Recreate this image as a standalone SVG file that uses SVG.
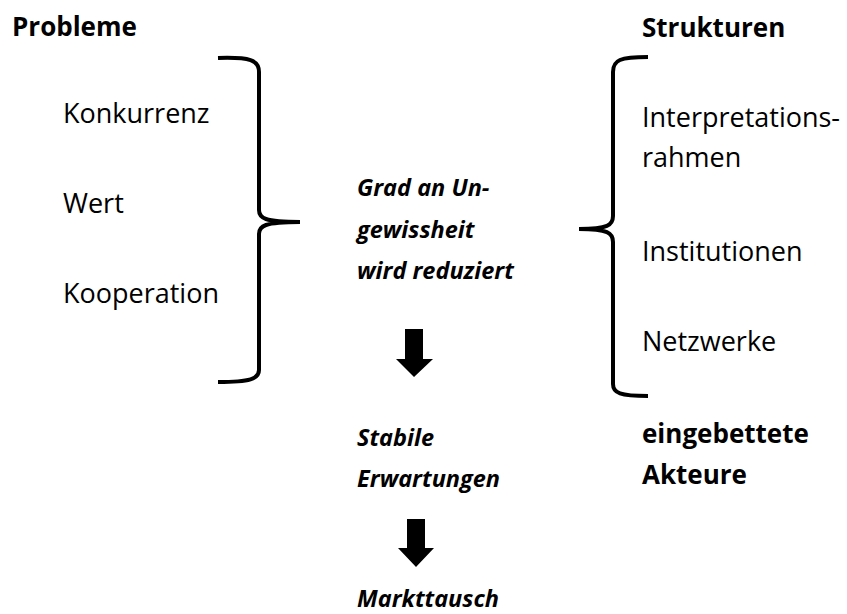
<svg xmlns="http://www.w3.org/2000/svg" width="847" height="614" viewBox="0 0 847 614">
<style>
text{font-family:"Open Sans","Liberation Sans",sans-serif;fill:#000;font-size:27px}
.b{font-weight:bold;font-size:26px}
.bi{font-weight:bold;font-style:italic;font-size:23.5px}
.brace{fill:none;stroke:#000;stroke-width:4;stroke-linecap:butt}
.arrow{fill:#000}
</style>
<rect width="847" height="614" fill="#fff"/>
<g id="probleme">
<text class="b" x="12" y="36">Probleme</text>
<text x="63" y="123">Konkurrenz</text>
<text x="63" y="213">Wert</text>
<text x="63" y="303">Kooperation</text>
</g>
<g id="strukturen">
<text class="b" x="642" y="37">Strukturen</text>
<text x="642" y="127">Interpretations-</text>
<text x="642" y="167">rahmen</text>
<text x="642" y="261">Institutionen</text>
<text x="642" y="351">Netzwerke</text>
</g>
<g id="ungewissheit">
<text class="bi" x="357" y="196">Grad an Un-</text>
<text class="bi" x="357" y="238">gewissheit</text>
<text class="bi" x="357" y="279">wird reduziert</text>
</g>
<g id="erwartungen">
<text class="bi" x="357" y="446">Stabile</text>
<text class="bi" x="357" y="487">Erwartungen</text>
</g>
<g id="akteure">
<text class="b" x="642" y="443">eingebettete</text>
<text class="b" x="642" y="484">Akteure</text>
</g>
<g id="markttausch">
<text class="bi" x="357" y="607">Markttausch</text>
</g>
<g id="connectors">
<path class="brace" d="M218,58 C250,57 259,60 259,72 V210 C259,218 264,222 300,222 C264,222 259,226 259,234 V370 C259,379 250,382 218,382"/>
<path class="brace" d="M648,57 C620,57 613,60 613,72 V216 C613,225 608,229 579,229 C608,229 613,233 613,242 V384 C613,393 620,396 648,396"/>
<path class="arrow" d="M405,329 H423 V359 H433 L414,377 L396,359 H405 Z"/>
<path class="arrow" d="M407,519 H425 V548 H434 L416,567 L398,548 H407 Z"/>
</g>
</svg>
